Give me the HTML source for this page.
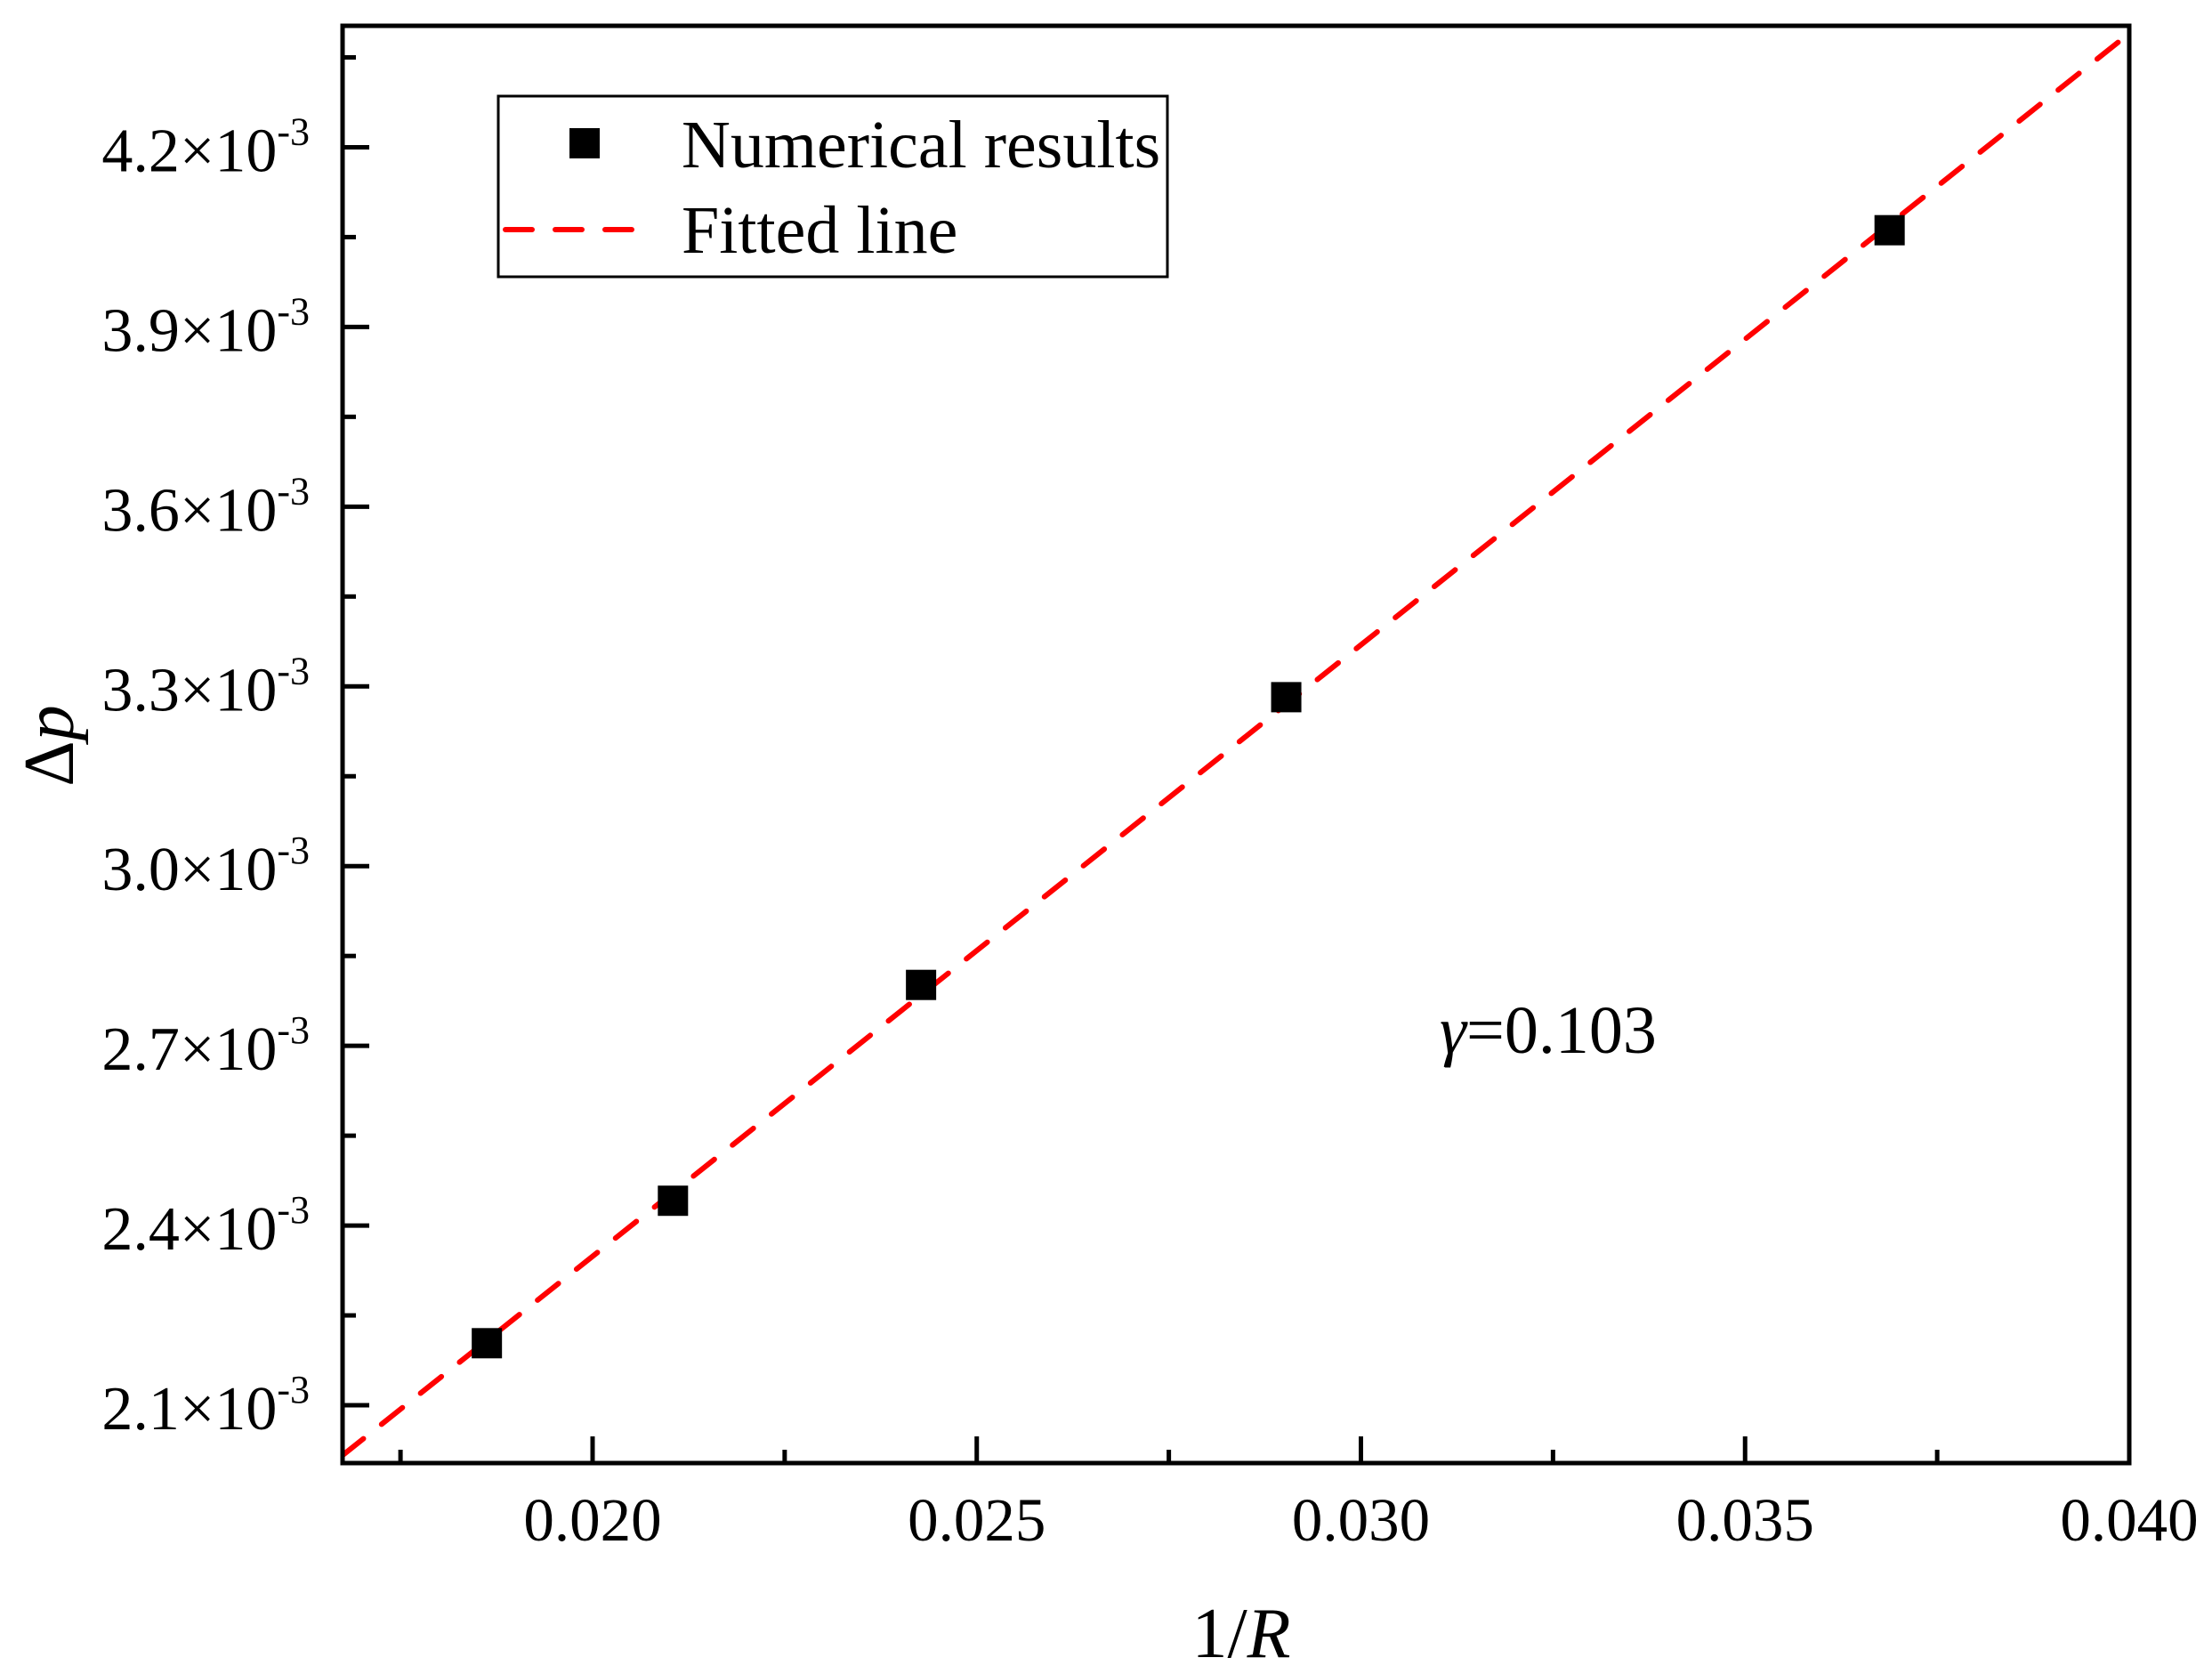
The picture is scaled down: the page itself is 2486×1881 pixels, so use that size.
<!DOCTYPE html>
<html><head><meta charset="utf-8"><style>
html,body{margin:0;padding:0;background:#fff;}
svg{display:block;font-family:"Liberation Serif","Times New Roman",serif;}
</style></head><body>
<svg id="chart" width="2486" height="1881" viewBox="0 0 2486 1881" xmlns="http://www.w3.org/2000/svg">
<rect width="2486" height="1881" fill="#fff"/>
</svg>
<script>
const xValues = [0.018624, 0.021046, 0.024275, 0.029028, 0.036881];
const yValues = [2.2036, 2.4414, 2.8017, 3.282, 4.0615];
const xTicks = [0.020, 0.025, 0.030, 0.035, 0.040];
const xTickLabels = ["0.020", "0.025", "0.030", "0.035", "0.040"];
const yTicks = [2.1, 2.4, 2.7, 3.0, 3.3, 3.6, 3.9, 4.2];
const yTickLabels = ["2.1", "2.4", "2.7", "3.0", "3.3", "3.6", "3.9", "4.2"];

const NS = "http://www.w3.org/2000/svg";
const svg = document.getElementById("chart");
const L = 385, R = 2393, T = 29, B = 1644;
const XMIN = 0.016746, XMAX = 0.040, YMIN = 2.0035, YMAX = 4.4027;
function sx(v){ return L + (v - XMIN) / (XMAX - XMIN) * (R - L); }
function sy(v){ return B - (v - YMIN) / (YMAX - YMIN) * (B - T); }
function mk(tag, attrs, parent){
  const e = document.createElementNS(NS, tag);
  for (const k in attrs) e.setAttribute(k, attrs[k]);
  (parent || svg).appendChild(e);
  return e;
}

const n = xValues.length;
let mx = 0, my = 0;
for (let i = 0; i < n; i++){ mx += xValues[i]; my += yValues[i]; }
mx /= n; my /= n;
let sxy = 0, sxx = 0;
for (let i = 0; i < n; i++){ sxy += (xValues[i]-mx)*(yValues[i]-my); sxx += (xValues[i]-mx)**2; }
const slope = sxy / sxx, icpt = my - slope * mx;
const clip = mk("clipPath", {id: "plotclip"});
mk("rect", {x: L, y: T, width: R - L, height: B - T}, clip);
const fit = mk("line", {x1: sx(XMIN), y1: sy(icpt + slope*XMIN), x2: sx(XMAX), y2: sy(icpt + slope*XMAX),
  stroke: "#ff0000", "stroke-width": 6, "stroke-dasharray": "30 26", "stroke-linecap": "round", "clip-path": "url(#plotclip)"});



for (let i = 0; i < n; i++){
  const m = mk("rect", {x: sx(xValues[i]) - 17, y: sy(yValues[i]) - 17, width: 34, height: 34, fill: "#000"});
  
  
}

const frame = mk("rect", {x: L, y: T, width: R - L, height: B - T, fill: "none", stroke: "#000", "stroke-width": 5});



for (let i = 0; i < xTicks.length; i++){
  const x = sx(xTicks[i]);
  const t = mk("line", {x1: x, y1: B, x2: x, y2: B - 30, stroke: "#000", "stroke-width": 5});
  
  
  const lb = mk("text", {x: x, y: 1731, "font-size": 69, "text-anchor": "middle", fill: "#000"});
  lb.textContent = xTickLabels[i];
  
  
}
for (let v = 0.0175; v < XMAX; v += 0.005){
  const x = sx(v);
  const t = mk("line", {x1: x, y1: B, x2: x, y2: B - 15, stroke: "#000", "stroke-width": 5});
  
  
}
for (let i = 0; i < yTicks.length; i++){
  const y = sy(yTicks[i]);
  const t = mk("line", {x1: L, y1: y, x2: L + 30, y2: y, stroke: "#000", "stroke-width": 5});
  
  
  const lb = mk("text", {x: 348, y: y + 27, "font-size": 70, "text-anchor": "end", fill: "#000"});
  
  
  const a = mk("tspan", {}, lb); a.textContent = yTickLabels[i] + "\u00d710";
  const b = mk("tspan", {"font-size": 44, dy: -30}, lb); b.textContent = "-3";
}
for (let v = 2.25; v < YMAX; v += 0.3){
  const y = sy(v);
  const t = mk("line", {x1: L, y1: y, x2: L + 15, y2: y, stroke: "#000", "stroke-width": 5});
  
  
}
</script>
<script>
const s2 = document.getElementById("chart");
s2.insertAdjacentHTML("beforeend", `
<g>
  <rect x="560" y="108" width="752" height="203" fill="#fff" stroke="#000" stroke-width="3"/>
  <rect x="640" y="144" width="34" height="34" fill="#000"/>
  <text x="766" y="188" font-size="76" fill="#000">Numerical results</text>
  <line x1="568" y1="258" x2="712" y2="258" stroke="#ff0000" stroke-width="6" stroke-dasharray="30 26" stroke-linecap="round"/>
  <text x="766" y="284" font-size="76" fill="#000">Fitted line</text>
</g>
<text x="1618" y="1183" font-size="76" fill="#000"><tspan font-style="italic">γ</tspan>=0.103</text>
<text x="1395" y="1862" font-size="80" text-anchor="middle" fill="#000">1/<tspan font-style="italic">R</tspan></text>
<text transform="translate(82,838) rotate(-90)" font-size="80" text-anchor="middle" fill="#000">Δ<tspan font-style="italic">p</tspan></text>
`);
</script>
</body></html>
